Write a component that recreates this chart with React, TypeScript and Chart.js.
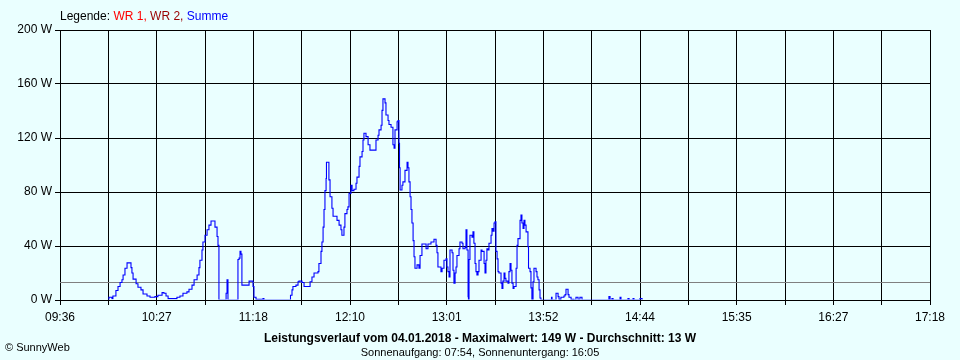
import React, { useEffect, useRef } from 'react';
import { Chart, registerables } from 'chart.js';

Chart.register(...registerables);

// x axis: minutes after 09:36, axis spans 09:36 .. 17:18
const X_SPAN_MIN = 462;
const X_TICK_LABELS = ['09:36', '10:27', '11:18', '12:10', '13:01', '13:52', '14:44', '15:35', '16:27', '17:18'];
const Y_TICKS = [0, 40, 80, 120, 160, 200];
const AVERAGE_W = 13;

// "Summe" power in W (minutes after 09:36)
const MORNING_T = [25.5, 26.0, 27.6, 28.1, 29.7, 30.8, 31.9, 32.9, 33.5, 34.5, 35.6, 36.6, 37.7, 38.2, 38.8, 40.4, 41.4, 43.0, 44.1, 46.2, 47.8, 50.4, 52.0, 54.2, 55.2, 56.3, 57.4, 59.5, 62.1, 63.7, 65.3, 67.4, 68.5, 70.1, 71.2, 72.8, 73.8, 74.3, 75.4, 75.9, 77.0, 78.1, 79.1, 80.2, 81.2, 82.3, 83.4, 83.9, 84.4, 87.1, 88.2, 88.7, 89.2, 90.3, 94.5, 95.1, 95.6, 96.1, 96.6, 99.3, 100.4, 102.0, 102.5, 103.0, 104.1, 107.8, 108.3];
const MORNING_W = [0, 2, 1, 3, 7, 10, 13, 15, 18.5, 23.5, 27.5, 27.5, 24, 20, 15.5, 12, 9.5, 7.5, 4.5, 3, 2, 2.5, 3.5, 5.5, 5, 3, 1, 1, 2, 3, 5, 6, 8, 11, 15, 18.5, 24, 29.5, 37, 43, 48, 52, 55.5, 58.5, 58.5, 54, 47, 40.5, 0, 0, 5, 15, 0, 0, 30, 31, 36, 34, 11, 11, 14, 14, 10, 2, 0.5, 1, 0];

const NOON_T = [122.1, 122.4, 123.2, 123.7, 125.3, 126.4, 126.9, 128.5, 129.6, 131.7, 132.8, 133.8, 134.9, 137.0, 137.5, 138.6, 139.1, 139.7, 140.2, 140.7, 141.3, 141.5, 142.3, 142.8, 143.4, 144.4, 145.0, 147.1, 148.2, 149.2, 149.7, 150.8, 151.3, 152.4, 152.9, 153.5, 154.5, 155.1, 156.1, 157.2, 157.7, 158.8, 159.3, 160.4, 160.9, 161.4, 162.5, 163.6, 164.6, 166.7, 167.8, 168.9, 169.4, 170.5, 171.0, 171.5, 172.6, 173.1, 174.2, 174.7, 175.8, 176.8, 177.4, 177.9, 179.0, 179.5];
const NOON_W = [0, 3.5, 7.5, 10, 11, 13.5, 14, 13, 10, 10, 13.5, 17, 20, 21, 27, 36, 43, 54, 67, 81, 90, 102, 102, 89, 76.5, 68, 62, 59, 55.5, 52, 48, 54, 64, 67, 69, 79, 85, 81, 82, 86.5, 91, 99, 106, 110, 118.5, 123.5, 121, 115, 111, 111, 118.5, 122, 126, 129.5, 140.5, 149, 146, 137, 133, 130, 128, 115, 112.5, 126, 132, 133];

const EARLY_PM_T = [180.0, 180.3, 180.6, 181.6, 182.1, 183.2, 184.3, 184.8, 185.3, 185.9, 186.4, 186.9, 187.5, 188.0, 188.5, 189.6, 190.6, 191.2, 192.2, 193.8, 194.4, 194.9, 195.4, 197.0, 198.1, 198.6, 199.7, 200.2, 200.7, 202.3, 202.9, 203.9, 205.0, 205.5, 206.0, 206.6, 207.1, 208.2, 208.7, 209.2, 209.8, 210.3, 210.8, 211.9, 212.4, 213.5, 214.0, 215.1, 215.6, 216.1, 216.7, 216.9, 217.2, 217.7, 218.8, 219.3, 219.8, 220.4, 220.9, 221.4, 222.0, 222.5, 223.6, 224.1, 225.2, 225.7, 226.2, 226.7, 227.3, 227.8, 228.9, 229.4, 229.9, 230.5, 231.0];
const EARLY_PM_W = [116, 98, 81.5, 85, 87.5, 96, 102, 98, 87.5, 76.5, 67, 57, 44, 32, 23.5, 26, 23.5, 33, 41.5, 41.5, 38, 38, 41.5, 43, 43, 45, 40.5, 35, 24.5, 21, 23.5, 29.5, 30.5, 24.5, 21, 17, 37, 35, 22, 12.5, 20, 24.5, 33, 38, 43, 42, 38, 39, 52, 37, 2.5, 0, 30, 48, 46.5, 50.5, 42, 27, 21, 18.5, 21, 29.5, 37, 36, 27, 20, 29.5, 38, 37, 42, 48, 53, 51, 57, 58];

const LATE_PM_T = [231.5, 232.1, 232.6, 233.1, 234.2, 234.7, 235.2, 235.8, 236.3, 236.8, 237.9, 238.4, 239.0, 239.5, 240.0, 240.6, 241.1, 242.2, 242.7, 243.2, 244.3, 244.8, 245.3, 245.9, 246.4, 246.9, 247.5, 248.5, 248.8, 249.6, 250.1, 250.6, 251.2, 251.7, 252.8, 253.3, 253.8, 254.4, 254.9, 255.4];
const LATE_PM_W = [36, 30.5, 21, 20, 12.5, 8.5, 14, 20, 16, 14, 12.5, 21, 27, 22, 12.5, 8.5, 10, 23.5, 40.5, 45.5, 59, 63, 57, 53, 59, 55.5, 50.5, 39.5, 23.5, 21, 9, 0, 13.5, 23.5, 21, 17, 15, 7.5, 1.5, 0];

const EVENING_T = [260.7, 261.0, 261.3, 263.4, 264.5, 265.0, 266.0, 266.6, 267.6, 268.2, 268.7, 269.8, 270.3, 271.4, 272.9, 274.0, 275.1, 276.1, 277.2, 291.5, 292.1, 293.1, 293.7, 297.4, 297.9, 301.6, 302.2, 304.3, 304.8, 308.0, 309.1];
const EVENING_W = [0, 2, 0, 5, 2.5, 0.5, 2, 2, 3, 4, 8, 4, 2, 0.5, 0, 2, 0, 2, 0, 2.5, 0, 1, 0, 2, 0, 1, 0, 1, 0, 1, 0];

const FONT = "'Liberation Sans', Arial, sans-serif";
const BG = '#EAFFFF';

const overlayPlugin = {
  id: 'overlay',
  beforeDatasetsDraw(chart: any) {
    const { ctx, chartArea } = chart;
    const y = Math.round(chart.scales.y.getPixelForValue(AVERAGE_W)) + 0.5;
    ctx.save();
    ctx.strokeStyle = '#808080';
    ctx.lineWidth = 1;
    ctx.beginPath();
    ctx.moveTo(chartArea.left, y);
    ctx.lineTo(chartArea.right, y);
    ctx.stroke();
    ctx.restore();
  },
  afterDatasetsDraw(chart: any) {
    const { ctx, chartArea } = chart;
    const y = Math.round(chart.scales.y.getPixelForValue(0)) + 0.5;
    ctx.save();
    ctx.strokeStyle = '#000000';
    ctx.lineWidth = 1;
    ctx.beginPath();
    ctx.moveTo(chartArea.left, y);
    ctx.lineTo(chartArea.right, y);
    ctx.stroke();
    ctx.restore();
  },
};

export default function App() {
  const ref = useRef<HTMLCanvasElement>(null);

  useEffect(() => {
    const times = [...MORNING_T, ...NOON_T, ...EARLY_PM_T, ...LATE_PM_T, ...EVENING_T];
    const watts = [...MORNING_W, ...NOON_W, ...EARLY_PM_W, ...LATE_PM_W, ...EVENING_W];
    const points = times.map((t, i) => ({ x: t, y: watts[i] }));
    const gridCount = (X_TICK_LABELS.length - 1) * 2;

    const chart = new Chart(ref.current as HTMLCanvasElement, {
      type: 'line',
      data: {
        datasets: [
          {
            label: 'Summe',
            data: points,
            borderColor: '#0000FF',
            borderWidth: 1.1,
            pointRadius: 0,
            stepped: true,
            fill: false,
            clip: { left: 2, top: 2, right: 2, bottom: -0.6 },
          },
        ],
      },
      options: {
        animation: false,
        responsive: false,
        maintainAspectRatio: false,
        layout: { padding: { left: 0, right: 30, top: 30, bottom: 0 } },
        plugins: { legend: { display: false }, tooltip: { enabled: false } },
        scales: {
          x: {
            type: 'linear',
            min: 0,
            max: X_SPAN_MIN,
            afterBuildTicks: (s: any) => {
              s.ticks = Array.from({ length: gridCount + 1 }, (_, i) => ({ value: (i * X_SPAN_MIN) / gridCount }));
            },
            afterFit: (s: any) => {
              s.height = 60;
            },
            grid: { color: '#000000', lineWidth: 1, tickLength: 5, drawTicks: true },
            border: { color: '#000000', width: 1 },
            ticks: {
              autoSkip: false,
              maxRotation: 0,
              padding: 5,
              color: '#000000',
              font: { family: FONT, size: 12 },
              callback: (_v: any, i: number) => (i % 2 === 0 ? X_TICK_LABELS[i / 2] : ''),
            },
          },
          y: {
            min: 0,
            max: 200,
            afterBuildTicks: (s: any) => {
              s.ticks = Y_TICKS.map((v) => ({ value: v }));
            },
            afterFit: (s: any) => {
              s.width = 60;
            },
            grid: { color: '#000000', lineWidth: 1, tickLength: 5, drawTicks: true },
            border: { color: '#000000', width: 1 },
            ticks: {
              padding: 3,
              color: '#000000',
              font: { family: FONT, size: 12 },
              callback: (v: any) => `${v} W`,
            },
          },
        },
      },
      plugins: [overlayPlugin],
    } as any);

    return () => chart.destroy();
  }, []);

  return (
    <div
      style={{
        position: 'absolute',
        left: 0,
        top: 0,
        width: 960,
        height: 360,
        background: BG,
        fontFamily: FONT,
        color: '#000',
        overflow: 'hidden',
      }}
    >
      <canvas ref={ref} width={960} height={360} style={{ position: 'absolute', left: 0, top: 0 }} />
      <div style={{ position: 'absolute', left: 60, top: 9, fontSize: 12, whiteSpace: 'nowrap' }}>
        Legende: <span style={{ color: '#FF0000' }}>WR 1,</span> <span style={{ color: '#990000' }}>WR 2,</span>{' '}
        <span style={{ color: '#0000FF' }}>Summe</span>
      </div>
      <div
        style={{
          position: 'absolute',
          left: 0,
          width: 960,
          top: 331,
          textAlign: 'center',
          fontSize: 12,
          fontWeight: 'bold',
          whiteSpace: 'nowrap',
        }}
      >
        Leistungsverlauf vom 04.01.2018 - Maximalwert: 149 W - Durchschnitt: 13 W
      </div>
      <div
        style={{
          position: 'absolute',
          left: 0,
          width: 960,
          top: 346,
          textAlign: 'center',
          fontSize: 11,
          whiteSpace: 'nowrap',
        }}
      >
        Sonnenaufgang: 07:54, Sonnenuntergang: 16:05
      </div>
      <div style={{ position: 'absolute', left: 5, top: 341, fontSize: 11, whiteSpace: 'nowrap' }}>© SunnyWeb</div>
    </div>
  );
}
